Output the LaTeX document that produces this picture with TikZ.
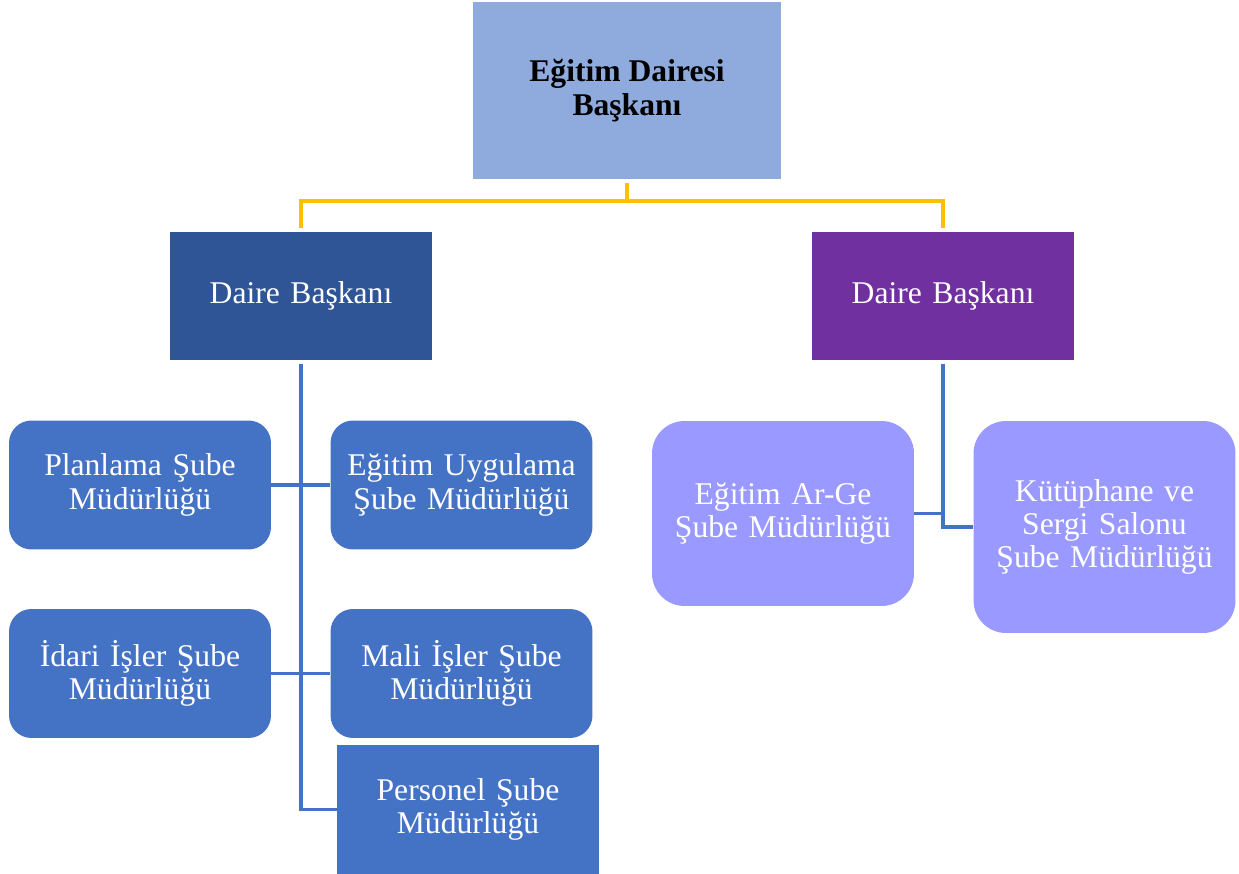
\documentclass[tikz,border=0pt]{standalone}
\usepackage{fontspec}
\setmainfont{Liberation Serif}
\usetikzlibrary{positioning}

\definecolor{headblue}{HTML}{8FAADC}
\definecolor{darkblue}{HTML}{2F5597}
\definecolor{darkpurple}{HTML}{7030A0}
\definecolor{unitblue}{HTML}{4472C4}
\definecolor{lavender}{HTML}{9999FF}
\definecolor{linkyellow}{HTML}{FFC000}

\begin{document}
\begin{tikzpicture}[x=0.02cm,y=-0.02cm,
  box/.style={rectangle,minimum width=5.24cm,minimum height=2.56cm,inner sep=0pt,text width=5cm,align=center,text=white,font=\fontsize{18}{19}\selectfont},
  unit/.style={box,fill=unitblue,rounded corners=0.45cm,minimum height=2.58cm},
  subunit/.style={box,fill=lavender,rounded corners=0.65cm},
  toplink/.style={draw=linkyellow,line width=1.9pt},
  link/.style={draw=unitblue,line width=1.9pt}]
\useasboundingbox (0,0) rectangle (1239,874);
\node (head) [rectangle,fill=headblue,minimum width=6.16cm,minimum height=3.54cm,align=center,font=\fontsize{18}{19}\selectfont\bfseries] at (627,90.5) {Eğitim Dairesi\\Başkanı};
\node (ldb) [box,fill=darkblue] at (301,296) {Daire Başkanı};
\node (rdb) [box,fill=darkpurple] at (943,296) {Daire Başkanı};
\node (plan) [unit] at (140,485) {Planlama Şube\\Müdürlüğü};
\node (upl) [unit] at (461.5,485) {Eğitim Uygulama\\Şube Müdürlüğü};
\node (idari) [unit] at (140,673.5) {İdari İşler Şube\\Müdürlüğü};
\node (mali) [unit] at (461.5,673.5) {Mali İşler Şube\\Müdürlüğü};
\node (pers) [box,fill=unitblue,minimum height=2.58cm] at (468,809.5) {Personel Şube\\Müdürlüğü};
\node (arge) [subunit,minimum height=3.7cm] at (783,513.5) {Eğitim Ar-Ge\\Şube Müdürlüğü};
\node (kut) [subunit,minimum height=4.24cm] at (1104.5,527) {Kütüphane ve\\Sergi Salonu\\Şube Müdürlüğü};
\coordinate (split) at (627,201);
  % yellow lines from the head
  \draw [toplink,shorten <=2pt] (head) -- (split);
  \draw [toplink,shorten >=2pt] (split) -| (ldb);
  \draw [toplink,shorten >=2pt] (split) -| (rdb);
  % left side
  \draw [link,shorten <=2pt] (ldb) -- (ldb |- pers) -- (pers);
  \draw [link] (plan) -- (upl);
  \draw [link] (idari) -- (mali);
  % right side
  \draw [link,shorten <=2pt] (rdb) -- (rdb |- kut) -- (kut);
  \draw [link] (arge) -- (arge -| rdb);
\end{tikzpicture}
\end{document}
